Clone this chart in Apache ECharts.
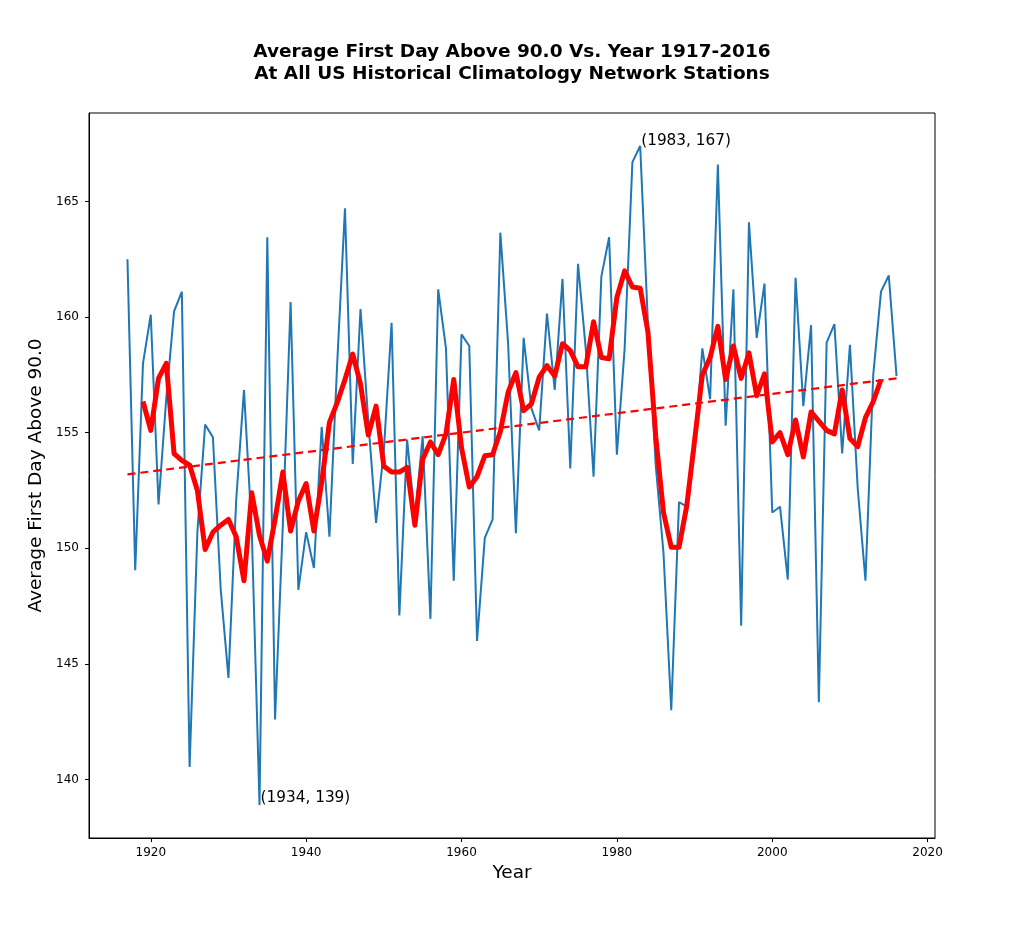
<!DOCTYPE html>
<html>
<head>
<meta charset="utf-8">
<script src="https://cdn.jsdelivr.net/npm/echarts@6/dist/echarts.min.js"></script>
<style>
	html,body{margin:0;padding:0;background:#fff;}
	#chart1{width:1024px;height:951px;}
</style>
</head>
<body>
<div id="chart1"></div>
<script>
var startYear=1917;
var firstDay=[
	162.5,149.05,158.0,160.1,151.9,156.5,160.25,161.1,140.55,150.7,
	155.35,154.8,148.25,144.4,152.1,156.85,150.8,138.9,163.45,142.6,
	151.0,160.65,148.2,150.7,149.15,155.25,150.5,158.0,164.7,153.65,
	160.35,155.5,151.1,154.2,159.75,147.1,154.7,151.3,154.85,146.95,
	161.2,158.65,148.6,159.25,158.75,146.0,150.45,151.25,163.65,158.85,
	150.65,159.1,156.05,155.1,160.15,156.85,161.65,153.45,162.3,158.6,
	153.1,161.75,163.45,154.05,158.65,166.7,167.4,159.7,153.6,149.8,
	143.0,152.0,151.8,154.2,158.65,156.45,166.6,155.3,161.2,146.65,
	164.1,159.1,161.45,151.55,151.8,148.65,161.7,156.15,159.65,143.35,
	158.9,159.7,154.1,158.8,152.6,148.6,157.5,161.1,161.8,157.45
];
// smoothed line starts two years after the first one
var avgStart=1919;
var avgData=[
	156.35,155.1,157.35,158.0,154.1,153.8,153.6,152.5,149.95,150.7,
	151.0,151.25,150.5,148.6,152.4,150.55,149.45,151.25,153.3,150.75,
	152.05,152.8,150.75,152.85,155.45,156.3,157.3,158.4,157.1,154.9,
	156.15,153.55,153.3,153.3,153.5,151.0,153.85,154.6,154.05,154.95,
	157.3,154.35,152.65,153.1,154.0,154.05,155.05,156.75,157.6,155.95,
	156.25,157.4,157.9,157.45,158.85,158.55,157.85,157.85,159.8,158.25,
	158.2,160.85,162.0,161.3,161.25,159.35,154.85,151.55,150.05,150.05,
	151.85,154.65,157.5,158.25,159.6,157.3,158.75,157.35,158.45,156.6,
	157.55,154.6,155.0,154.05,155.55,153.95,155.9,155.5,155.1,154.95,
	156.85,154.75,154.4,155.65,156.35,157.3
];
var trendYears=[1917,2016];
var trendValues=[153.2,157.35];
var xTicks=[1920,1940,1960,1980,2000,2020];
var yTicks=[140,145,150,155,160,165];
var notes=[[1934,139,'(1934, 139)'],[1983,167.4,'(1983, 167)']];

window.onload=function(){
	chart1();
};

function pairs(start,arr){
	var out=[];
	for(var i=0;i<arr.length;i++){
		out.push([start+i,arr[i]]);
	}
	return out;
}

function chart1(){
	var myChart=echarts.init(document.getElementById('chart1'));
	var font='DejaVu Sans';
	var trendData=[];
	for(var i=0;i<trendYears.length;i++){
		trendData.push([trendYears[i],trendValues[i]]);
	}
	var noteData=[];
	for(var j=0;j<notes.length;j++){
		noteData.push({coord:[notes[j][0],notes[j][1]],value:notes[j][2]});
	}
	var option={
		animation:false,
		backgroundColor:'#fff',
		title:{
			text:'Average First Day Above 90.0 Vs. Year 1917-2016\nAt All US Historical Climatology Network Stations',
			left:'center',
			top:36,
			textStyle:{
				fontFamily:font,
				fontSize:18.5,
				fontWeight:'bold',
				color:'#000',
				lineHeight:22
			}
		},
		grid:{
			left:89,
			right:89,
			top:113,
			bottom:113,
			show:true,
			borderColor:'#000',
			borderWidth:1
		},
		xAxis:{
			type:'value',
			min:1912.05,
			max:2020.95,
			name:'Year',
			nameLocation:'middle',
			nameGap:26,
			nameTextStyle:{fontFamily:font,fontSize:18.5,color:'#000'},
			axisLine:{show:true,lineStyle:{color:'#000'}},
			axisTick:{show:true,length:4,customValues:xTicks,lineStyle:{color:'#000'}},
			axisLabel:{
				customValues:xTicks,
				formatter:function(v){return String(v);},
				fontFamily:font,
				fontSize:12,
				color:'#000',
				margin:9
			},
			splitLine:{show:false}
		},
		yAxis:{
			type:'value',
			min:137.475,
			max:168.825,
			name:'Average First Day Above 90.0',
			nameLocation:'middle',
			nameGap:40,
			nameTextStyle:{fontFamily:font,fontSize:18.5,color:'#000'},
			axisLine:{show:true,lineStyle:{color:'#000'}},
			axisTick:{show:true,length:4,customValues:yTicks,lineStyle:{color:'#000'}},
			axisLabel:{
				customValues:yTicks,
				formatter:function(v){return String(v);},
				fontFamily:font,
				fontSize:12,
				color:'#000',
				margin:10
			},
			splitLine:{show:false}
		},
		series:[
			{
				name:'First day',
				type:'line',
				data:pairs(startYear,firstDay),
				showSymbol:false,
				symbol:'none',
				lineStyle:{color:'#1f77b4',width:2},
				z:2,
				markPoint:{
					symbol:'circle',
					symbolSize:0,
					label:{
						show:true,
						position:'right',
						distance:1,
						offset:[0,-5],
						formatter:'{c}',
						fontFamily:font,
						fontSize:15.3,
						color:'#000'
					},
					data:noteData
				}
			},
			{
				name:'Trend',
				type:'line',
				data:trendData,
				symbol:'none',
				lineStyle:{color:'#ff0000',width:2.2,type:[8,5]},
				z:3
			},
			{
				name:'Average',
				type:'line',
				data:pairs(avgStart,avgData),
				symbol:'none',
				lineStyle:{color:'#ff0000',width:5,join:'round'},
				z:4
			}
		]
	};
	myChart.setOption(option);
	window.addEventListener("resize",function(){
		myChart.resize();
	});
}
</script>
</body>
</html>
